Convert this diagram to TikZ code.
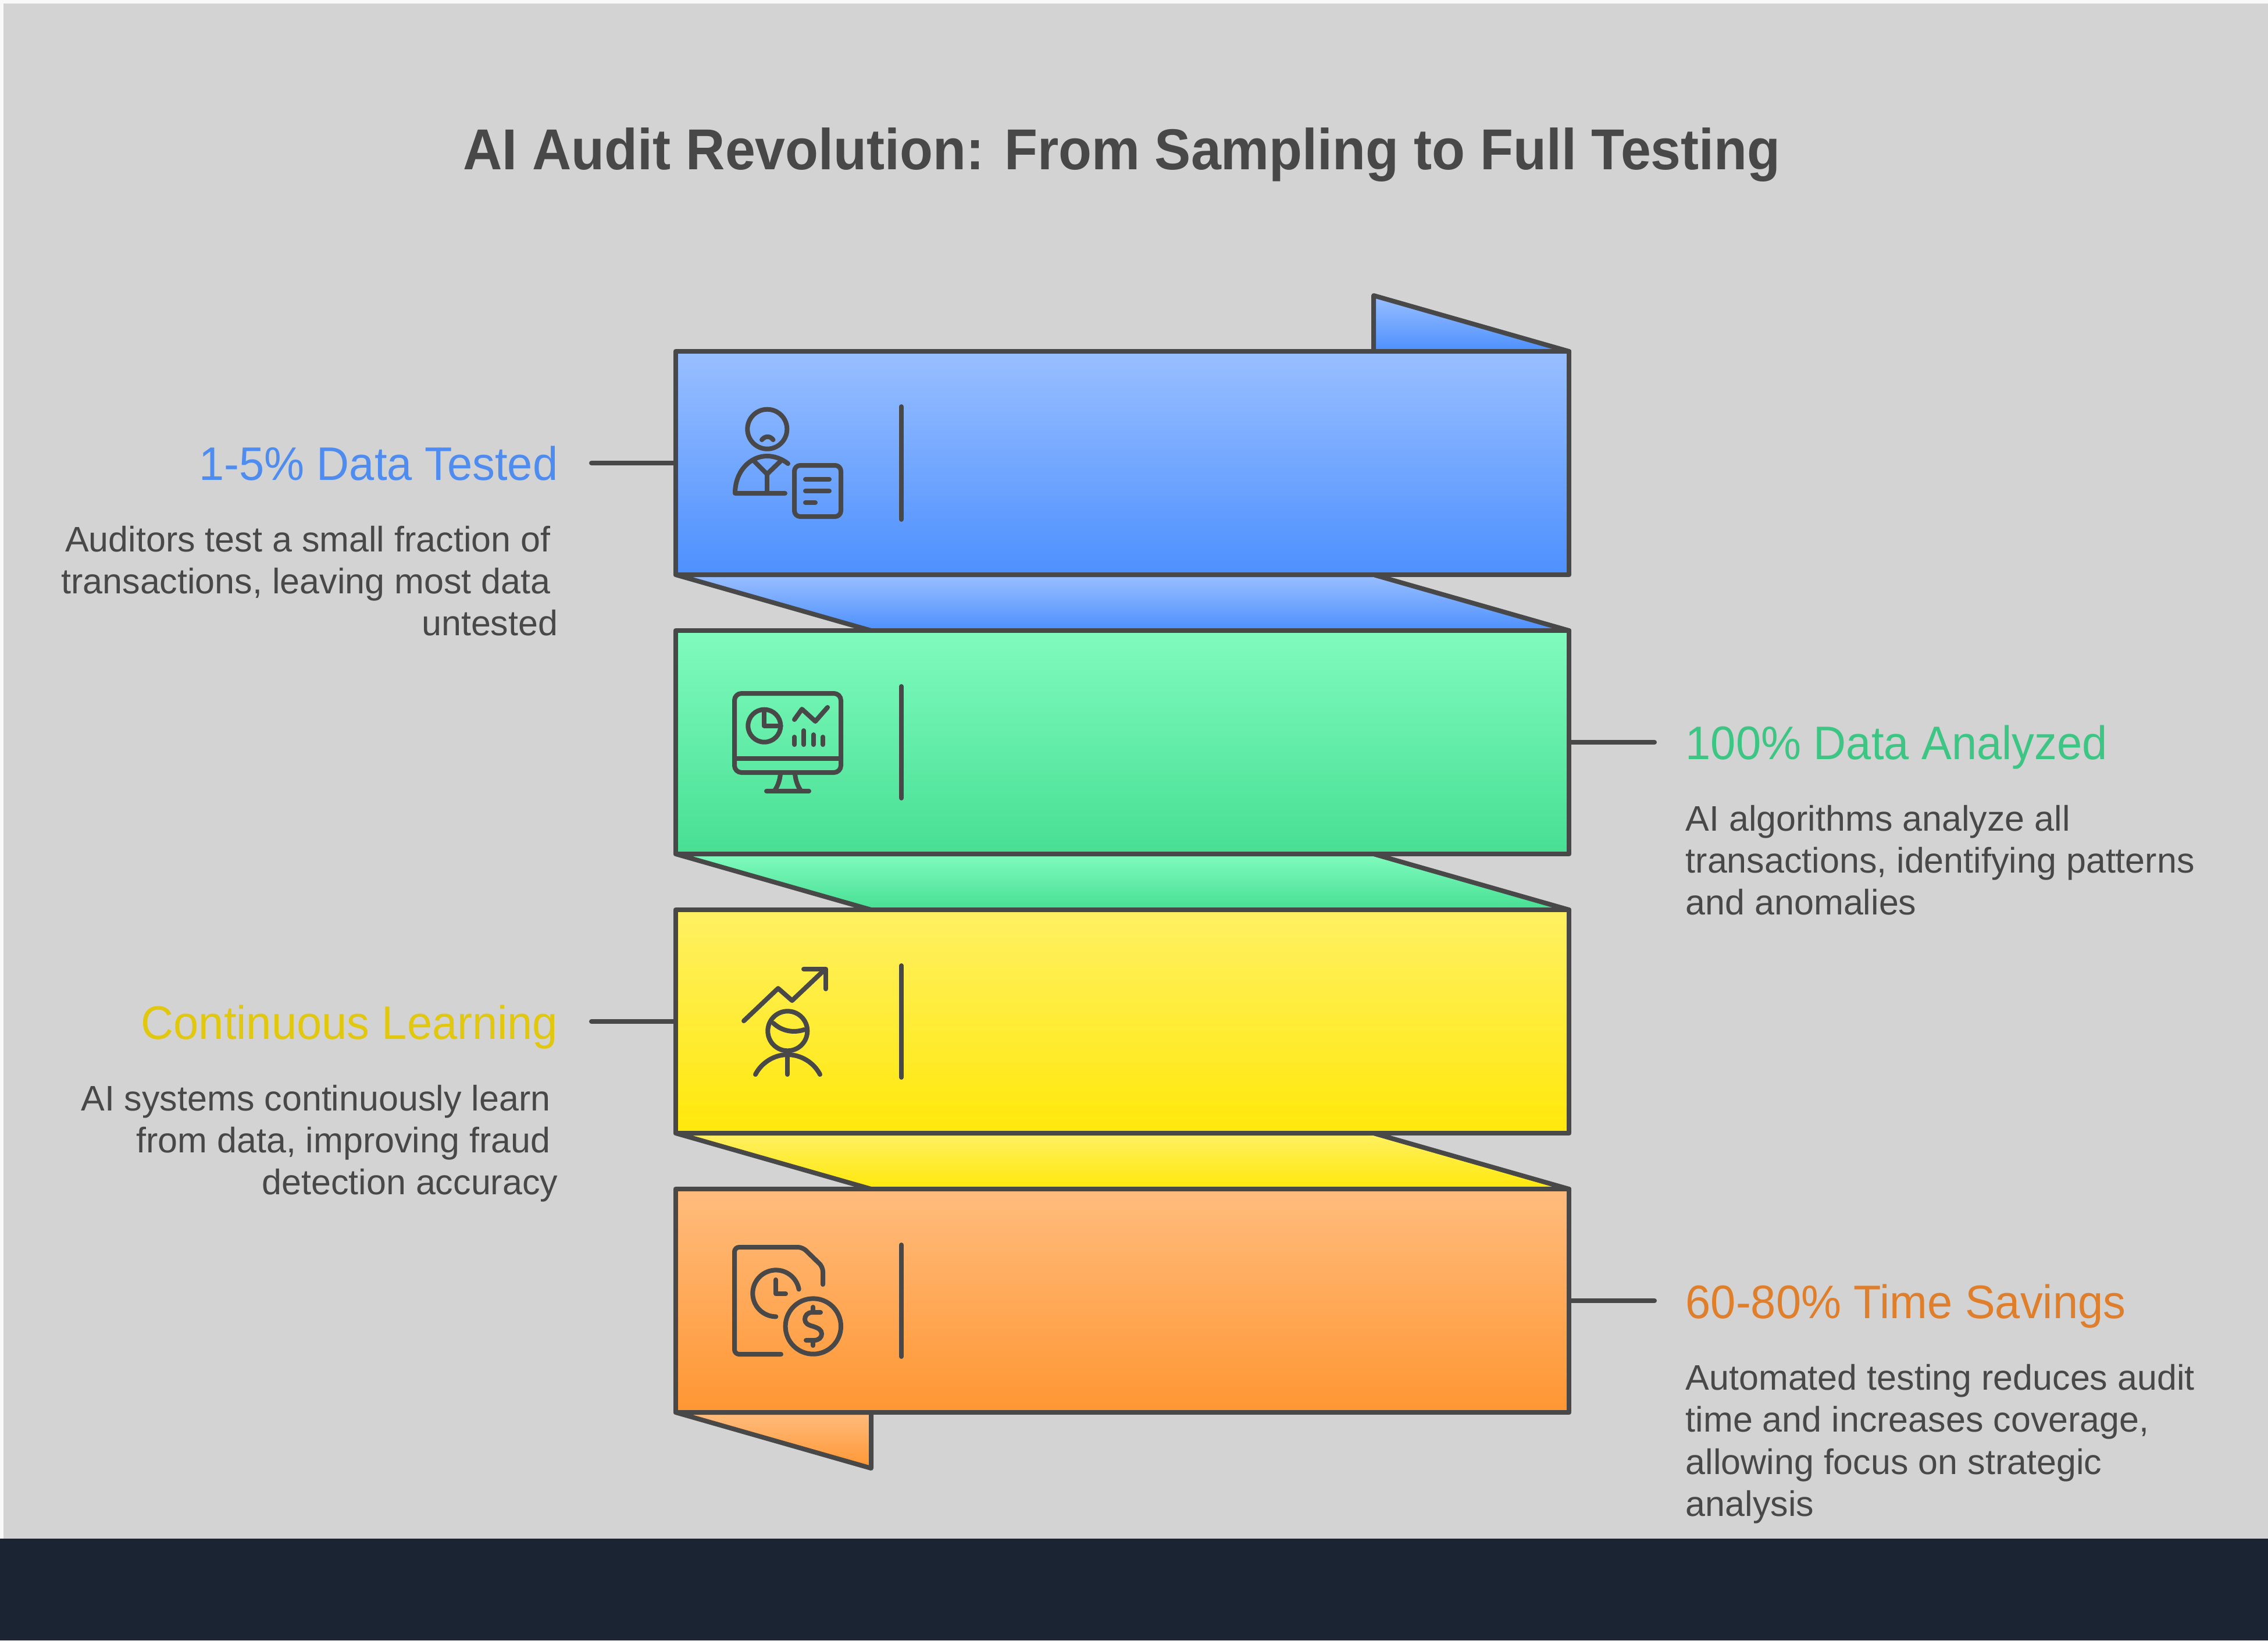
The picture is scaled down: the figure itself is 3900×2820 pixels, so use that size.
\documentclass[tikz,border=0pt]{standalone}
\usepackage{fontspec}
\setmainfont{Liberation Sans}
\newfontfamily\titlefont[FakeStretch=0.94]{Liberation Sans}
\newfontfamily\headfont[FakeStretch=0.96]{Liberation Sans}
\definecolor{inkgrey}{HTML}{484848}
\definecolor{pagegrey}{HTML}{D3D3D3}
\definecolor{footdark}{HTML}{1A2433}
\definecolor{bluetone}{HTML}{4F8CEF}
\definecolor{greentone}{HTML}{3CC583}
\definecolor{yellowtone}{HTML}{E1C80F}
\definecolor{orangetone}{HTML}{E07F2B}
\definecolor{bluetop}{HTML}{99BFFF}
\definecolor{bluelow}{HTML}{4D90FE}
\definecolor{greentop}{HTML}{80FBBE}
\definecolor{greenlow}{HTML}{47DF93}
\definecolor{yellowtop}{HTML}{FFF063}
\definecolor{yellowlow}{HTML}{FFE80A}
\definecolor{orangetop}{HTML}{FFBC7D}
\definecolor{orangelow}{HTML}{FF9633}
\newcommand{\trail}{\kern 0.21em}
\tikzset{
	outline/.style={draw=inkgrey, line width=0.08cm, line join=round, line cap=round},
	iconline/.style={outline, fill=none},
	barbox/.style={outline, inner sep=0pt, outer sep=0pt, minimum width=15.36cm, minimum height=3.84cm},
	bluefill/.style={top color=bluetop, bottom color=bluelow},
	greenfill/.style={top color=greentop, bottom color=greenlow},
	yellowfill/.style={top color=yellowtop, bottom color=yellowlow},
	orangefill/.style={top color=orangetop, bottom color=orangelow},
	headline/.style={inner sep=0pt, text=inkgrey, font=\fontsize{28.2}{34}\titlefont\bfseries},
	sidehead/.style={inner sep=0pt, font=\fontsize{23}{27}\headfont},
	sidetext/.style={inner sep=0pt, text=inkgrey, font=\fontsize{17.35}{20.48}\selectfont},
}
\begin{document}
\begin{tikzpicture}[x=0.01cm, y=-0.01cm]
		\useasboundingbox (0, 0) rectangle (3900, 2820);
		\fill[white!97.5!black] (0, 0) rectangle (3900, 2820);
		\fill[pagegrey] (6, 6) rectangle (3900, 2645);
		\fill[footdark] (0, 2645) rectangle (3900, 2820);

		\node[headline, anchor=base] (title) at (1929, 291) {AI Audit Revolution: From Sampling to Full Testing};

		% flaps behind the bars
		\draw[outline, bluefill] (2362, 508) -- (2698, 604) -- (2362, 604) -- cycle;
		\draw[outline, bluefill] (1162, 988) -- (2362, 988) -- (2698, 1084) -- (1498, 1084) -- cycle;
		\draw[outline, greenfill] (1162, 1468) -- (2362, 1468) -- (2698, 1564) -- (1498, 1564) -- cycle;
		\draw[outline, yellowfill] (1162, 1948) -- (2362, 1948) -- (2698, 2044) -- (1498, 2044) -- cycle;
		\draw[outline, orangefill] (1162, 2428) -- (1498, 2524) -- (1498, 2428) -- cycle;

		\node[barbox, bluefill] (bluebar) at (1930, 796) {};
		\node[barbox, greenfill] (greenbar) at (1930, 1276) {};
		\node[barbox, yellowfill] (yellowbar) at (1930, 1756) {};
		\node[barbox, orangefill] (orangebar) at (1930, 2236) {};

		% connectors
		\coordinate (blueend) at (1017, 796);
		\coordinate (greenend) at (2845, 1276);
		\coordinate (yellowend) at (1017, 1756);
		\coordinate (orangeend) at (2845, 2236);
		\draw[outline] (bluebar.west) -- (blueend);
		\draw[outline] (greenbar.east) -- (greenend);
		\draw[outline] (yellowbar.west) -- (yellowend);
		\draw[outline] (orangebar.east) -- (orangeend);

		% separators
		\draw[iconline] (1550, 699) -- (1550, 893);
		\draw[iconline] (1550, 1180) -- (1550, 1372);
		\draw[iconline] (1550, 1660) -- (1550, 1852);
		\draw[iconline] (1550, 2140) -- (1550, 2332);

		% person with report
		\draw[iconline] (1319.3, 737.7) circle [radius=34];
		\draw[iconline] (1310, 756) .. controls (1316, 749) and (1324, 749) .. (1329.5, 756);
		\draw[iconline] (1350, 848) -- (1264, 848) .. controls (1264, 810) and (1290, 784) .. (1319, 784) .. controls (1332, 784) and (1345, 789) .. (1355, 797);
		\draw[iconline] (1297, 793) -- (1319, 815) -- (1343, 792);
		\draw[iconline] (1319, 815) -- (1319, 848);
		\draw[iconline, rounded corners=0.1cm] (1366, 800) rectangle (1446, 888);
		\draw[iconline] (1385, 824) -- (1426, 824);
		\draw[iconline] (1385, 844) -- (1426, 844);
		\draw[iconline] (1385, 864) -- (1402, 864);

		% monitor with charts
		\draw[iconline, rounded corners=0.12cm] (1263, 1192) rectangle (1446, 1328);
		\draw[iconline] (1263, 1304) -- (1446, 1304);
		\draw[iconline] (1342, 1330) .. controls (1341, 1342) and (1337, 1352) .. (1332, 1359);
		\draw[iconline] (1367, 1330) .. controls (1368, 1342) and (1372, 1352) .. (1377, 1359);
		\draw[iconline] (1318, 1360) -- (1391, 1360);
		\draw[iconline] (1314.3, 1247.7) circle [radius=28];
		\draw[iconline] (1314.3, 1220) -- (1314.3, 1247.7) -- (1342.7, 1247.7);
		\draw[iconline] (1366, 1237) -- (1379, 1219) -- (1402, 1240) -- (1423, 1216);
		\foreach \barx/\bartop in {1366.3/1267, 1382.3/1256, 1398.7/1263, 1415/1267}
			\draw[iconline] (\barx, \bartop) -- (\barx, 1280);

		% learner with rising arrow
		\draw[iconline] (1279, 1755) -- (1338, 1699) -- (1362, 1720) -- (1418, 1667);
		\draw[iconline] (1382, 1666) -- (1420, 1666) -- (1420, 1700);
		\draw[iconline] (1354.3, 1772.3) circle [radius=34];
		\draw[iconline] (1330, 1759) .. controls (1345, 1773) and (1365, 1776) .. (1383, 1770);
		\draw[iconline] (1299, 1847) .. controls (1310, 1826) and (1332, 1813) .. (1354, 1813) .. controls (1377, 1813) and (1399, 1826) .. (1410, 1847);
		\draw[iconline] (1354, 1813) -- (1354, 1847);

		% document with clock and coin
		\draw[iconline, rounded corners=0.08cm] (1343, 2328) -- (1263, 2328) -- (1263, 2144) -- (1380, 2144) -- (1415, 2178) -- (1415, 2208);
		\draw[iconline] (1373.7, 2216.4) arc (-10:-270:40);
		\draw[iconline] (1334, 2200) -- (1334, 2224) -- (1351, 2224);
		\draw[iconline] (1398.3, 2280) circle [radius=47.7];
		\draw[iconline] (1398.3, 2247) -- (1398.3, 2253);
		\draw[iconline] (1398.3, 2307) -- (1398.3, 2313);
		\draw[iconline] (1411, 2256) -- (1397, 2256) .. controls (1388, 2256) and (1384, 2262) .. (1384, 2268) .. controls (1384, 2275) and (1390, 2278) .. (1398, 2280) .. controls (1407, 2283) and (1413, 2286) .. (1413, 2293) .. controls (1413, 2299) and (1408, 2304) .. (1400, 2304) -- (1386, 2304);

		% labels
		\node[sidehead, text=bluetone, anchor=base east] (bluehead) at (960, 825) {1-5\% Data Tested};
		\node[sidetext, anchor=north east, align=right] (bluetext) at (960, 904) {Auditors test a small fraction of\trail\\transactions, leaving most data\trail\\untested};
		\node[sidehead, text=greentone, anchor=base west] (greenhead) at (2898, 1305) {100\% Data Analyzed};
		\node[sidetext, anchor=north west, align=left] (greentext) at (2898, 1384) {AI algorithms analyze all\\transactions, identifying patterns\\and anomalies};
		\node[sidehead, text=yellowtone, anchor=base east] (yellowhead) at (960, 1786) {Continuous Learning};
		\node[sidetext, anchor=north east, align=right] (yellowtext) at (960, 1865) {AI systems continuously learn\trail\\from data, improving fraud\trail\\detection accuracy};
		\node[sidehead, text=orangetone, anchor=base west] (orangehead) at (2898, 2266) {60-80\% Time Savings};
		\node[sidetext, anchor=north west, align=left] (orangetext) at (2898, 2345) {Automated testing reduces audit\\time and increases coverage,\\allowing focus on strategic\\analysis};
	\end{tikzpicture}
\end{document}
